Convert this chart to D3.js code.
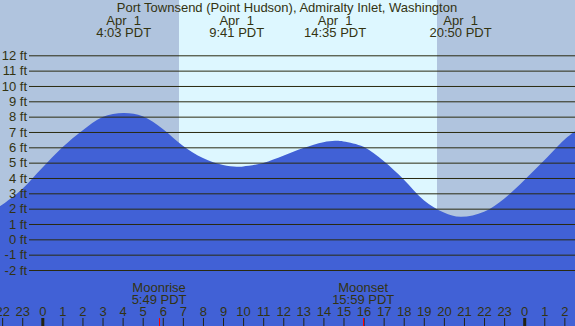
<!DOCTYPE html>
<html>
<head>
<meta charset="utf-8">
<script src="https://cdn.jsdelivr.net/npm/d3@7"></script>
<style>
  body { margin: 0; background: #fff; }
  svg { display: block; font-family: "Liberation Sans", Arial, sans-serif; }
  text { fill: #333311; white-space: pre; }
</style>
</head>
<body>
<div id="canvas"></div>
<script>
var width = 575, height = 326;
var fs = 13;

var title = "Port Townsend (Point Hudson), Admiralty Inlet, Washington";

// tide curve, hours from midnight Apr 1
var tideHours = [-2.107, -2, -1, 0, 1, 2, 3, 4.05, 5, 6, 7, 8, 9, 9.68, 10, 11, 12, 13, 14, 14.58, 15, 16, 17, 18, 19, 20, 20.83, 22, 23, 24, 25, 26, 26.53];
var tideFeet = [2.17, 2.25, 3.28, 4.66, 6.0, 7.1, 7.98, 8.24, 8.03, 7.2, 6.1, 5.3, 4.84, 4.73, 4.75, 4.98, 5.45, 5.95, 6.33, 6.42, 6.38, 6.03, 5.1, 3.9, 2.55, 1.75, 1.47, 1.8, 2.65, 3.85, 5.15, 6.5, 7.05];

// high / low labels
var eventHours = [4.05, 9.683, 14.583, 20.833];
var eventLabels = ["4:03 PDT", "9:41 PDT", "14:35 PDT", "20:50 PDT"];

var sunrise = 6.82, sunset = 19.67;
var moonHours = [5.817, 15.983];
var moonNames = ["Moonrise", "Moonset"];
var moonLabels = ["5:49 PDT", "15:59 PDT"];

var feetTicks = d3.range(-2, 13);
var hourTicks = d3.range(-2, 27);

var x = d3.scaleLinear().domain([-2.107, 26.53]).range([0, width]);
var y = d3.scaleLinear().domain([-2, 12]).range([270, 55.3]);

var svg = d3.select("#canvas").append("svg")
  .attr("width", width)
  .attr("height", height);

// night / day background
svg.append("rect")
  .attr("x", 0).attr("y", 0)
  .attr("width", width).attr("height", height)
  .attr("fill", "#b0c4de");

svg.append("rect")
  .attr("x", Math.round(x(sunrise))).attr("y", 0)
  .attr("width", Math.round(x(sunset)) - Math.round(x(sunrise))).attr("height", height)
  .attr("fill", "#ddf7ff");

// water
var area = d3.area()
  .x(function (d, i) { return x(tideHours[i]); })
  .y0(height)
  .y1(function (d) { return y(d); })
  .curve(d3.curveCatmullRom.alpha(0.5));

svg.append("path")
  .datum(tideFeet)
  .attr("d", area)
  .attr("fill", "#4161d6");

// feet grid lines + labels
var yAxis = d3.axisLeft(y)
  .tickValues(feetTicks)
  .tickSize(width - 29)
  .tickPadding(2)
  .tickFormat(function (d) { return d + " ft"; });

var gy = svg.append("g")
  .attr("transform", "translate(" + width + ",0)")
  .call(yAxis);
gy.select(".domain").remove();
gy.selectAll("line").attr("stroke", "#2a2a10");
gy.selectAll("text")
  .attr("font-size", fs)
  .attr("font-family", "Liberation Sans, Arial, sans-serif")
  .attr("fill", "#333311");

// hour axis along the bottom
var xAxis = d3.axisTop(x)
  .tickValues(hourTicks)
  .tickSize(8)
  .tickPadding(2)
  .tickFormat(function (d) { return ((d % 24) + 24) % 24; });

var gx = svg.append("g")
  .attr("transform", "translate(0," + height + ")")
  .call(xAxis);
gx.select(".domain").remove();
gx.selectAll("line").attr("stroke", "#222211")
  .attr("stroke-width", function (d) { return d % 24 === 0 ? 3 : 1; });
gx.selectAll("text")
  .attr("font-size", fs)
  .attr("font-family", "Liberation Sans, Arial, sans-serif")
  .attr("fill", "#333311");

// moon rise / set markers
moonHours.forEach(function (h, i) {
  var mx = Math.round(x(h)) + 0.5;
  svg.append("line")
    .attr("x1", mx).attr("x2", mx)
    .attr("y1", height - 8).attr("y2", height)
    .attr("stroke", "red");
  svg.append("text")
    .attr("x", x(h)).attr("y", 292)
    .attr("text-anchor", "middle")
    .attr("font-size", fs)
    .text(moonNames[i]);
  svg.append("text")
    .attr("x", x(h)).attr("y", 304)
    .attr("text-anchor", "middle")
    .attr("font-size", fs)
    .text(moonLabels[i]);
});

// title + tide event labels
svg.append("text")
  .attr("x", 287).attr("y", 12)
  .attr("text-anchor", "middle")
  .attr("font-size", fs)
  .text(title);

eventHours.forEach(function (h, i) {
  svg.append("text")
    .attr("x", x(h)).attr("y", 24.5)
    .attr("text-anchor", "middle")
    .attr("font-size", fs)
    .text("Apr  1");
  svg.append("text")
    .attr("x", x(h)).attr("y", 36.5)
    .attr("text-anchor", "middle")
    .attr("font-size", fs)
    .text(eventLabels[i]);
});
</script>
</body>
</html>
